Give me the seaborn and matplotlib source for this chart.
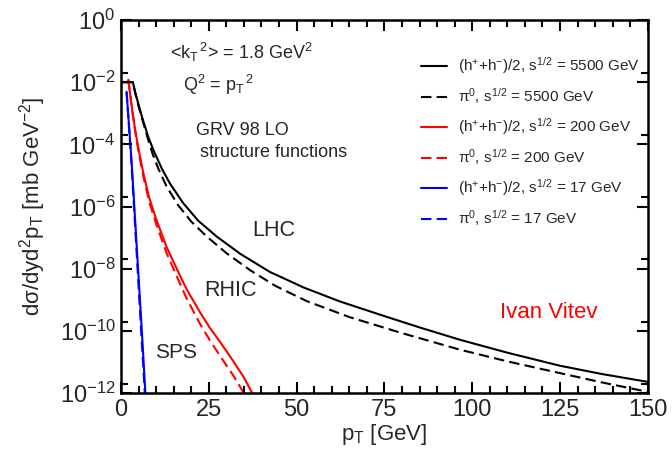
import numpy as np
import matplotlib
matplotlib.use("Agg")
import matplotlib.pyplot as plt
from matplotlib.ticker import MultipleLocator, FixedLocator, NullFormatter
import seaborn as sns

# LHC, sqrt(s) = 5500 GeV
lhc_h_pt = [0.5, 3.4, 4.0, 4.9, 6.0, 7.8, 9.5, 11.6, 14.0, 17.7, 22.0, 27.2, 34.0,
            42.4, 52.0, 62.3, 75.0, 85.0, 96.5, 110, 125, 137, 150]
lhc_h_y = [1.0e-2, 1.0e-2, 5.0e-3, 2.1e-3, 7.6e-4, 1.7e-4, 5.6e-5, 1.7e-5, 5.4e-6,
           1.3e-6, 3.5e-7, 1.1e-7, 3.0e-8, 7.9e-9, 2.5e-9, 8.9e-10, 3.0e-10,
           1.3e-10, 5.2e-11, 2.0e-11, 7.6e-12, 4.1e-12, 2.3e-12]
lhc_pi_pt = [0.5, 3.4, 4.0, 4.9, 6.0, 7.6, 9.0, 10.6, 13.0, 16.3, 20.0, 24.4, 30.0,
             36.7, 44.0, 52.9, 65.0, 80.0, 96.5, 110, 125, 137, 150]
lhc_pi_y = [1.0e-2, 1.0e-2, 4.8e-3, 1.9e-3, 6.8e-4, 1.6e-4, 5.0e-5, 1.7e-5, 4.4e-6,
            1.1e-6, 3.3e-7, 1.1e-7, 3.2e-8, 9.1e-9, 2.8e-9, 9.1e-10, 2.8e-10,
            8.5e-11, 2.5e-11, 1.05e-11, 4.4e-12, 2.2e-12, 1.1e-12]

# RHIC, sqrt(s) = 200 GeV
rhic_h_pt = [2.1, 2.6, 3.2, 4.0, 5.0, 6.3, 8.0, 10.0, 13.0, 16.3, 18.7, 22.5, 25.3,
             28.5, 31.9, 35.0, 37.6, 39.0]
rhic_h_y = [1.2e-2, 4.2e-3, 1.3e-3, 3.2e-4, 7.1e-5, 1.3e-5, 2.0e-6, 4.0e-7, 5.0e-8,
            7.9e-9, 2.2e-9, 4.0e-10, 1.26e-10, 4.0e-11, 1.1e-11, 3.2e-12, 8.9e-13, 4.5e-13]
rhic_pi_pt = [2.1, 2.6, 3.2, 4.0, 5.0, 6.3, 8.0, 10.0, 13.0, 16.3, 18.7, 22.5, 25.3,
              28.5, 31.9, 35.0, 36.5]
rhic_pi_y = [1.2e-2, 4.0e-3, 1.2e-3, 2.8e-4, 6.0e-5, 1.0e-5, 1.5e-6, 2.8e-7, 3.2e-8,
             4.5e-9, 1.1e-9, 1.7e-10, 5.0e-11, 1.4e-11, 3.8e-12, 1.0e-12, 5.0e-13]

# SPS, sqrt(s) = 17 GeV
sps_h_pt = [1.6, 3.0, 4.5, 6.0, 7.0]
sps_h_y = [4.9e-3, 3.2e-5, 5.0e-8, 7.9e-11, 7.9e-13]
sps_pi_pt = [1.6, 2.95, 4.4, 5.85, 6.9]
sps_pi_y = [4.9e-3, 2.8e-5, 4.5e-8, 6.3e-11, 6.3e-13]

labels = [
    r"(h$^{+}$+h$^{-}$)/2, s$^{1/2}$ = 5500 GeV",
    r"π$^{0}$, s$^{1/2}$ = 5500 GeV",
    r"(h$^{+}$+h$^{-}$)/2, s$^{1/2}$ = 200 GeV",
    r"π$^{0}$, s$^{1/2}$ = 200 GeV",
    r"(h$^{+}$+h$^{-}$)/2, s$^{1/2}$ = 17 GeV",
    r"π$^{0}$, s$^{1/2}$ = 17 GeV",
]

x_major = list(range(0, 151, 25))
y_exp = list(range(-12, 1, 2))

sns.set_style("ticks")
plt.rcParams["font.family"] = ["Liberation Sans", "DejaVu Sans"]
plt.rcParams["mathtext.fontset"] = "custom"
plt.rcParams["mathtext.rm"] = "Liberation Sans"
plt.rcParams["mathtext.it"] = "Liberation Sans:italic"
plt.rcParams["mathtext.bf"] = "Liberation Sans:bold"

fig = plt.figure(figsize=(6.72, 4.55), dpi=100)
ax = fig.add_axes([0.18, 0.136, 0.784, 0.82])

dash = (0, (5, 2.5))
series = [
    (lhc_h_pt, lhc_h_y, "black", "-"),
    (lhc_pi_pt, lhc_pi_y, "black", dash),
    (rhic_h_pt, rhic_h_y, "red", "-"),
    (rhic_pi_pt, rhic_pi_y, "red", dash),
    (sps_h_pt, sps_h_y, "blue", "-"),
    (sps_pi_pt, sps_pi_y, "blue", dash),
]
for (xs, ys, col, ls), lab in zip(series, labels):
    sns.lineplot(x=xs, y=ys, ax=ax, color=col, linestyle=ls, linewidth=1.5,
                 label=lab, sort=False)

ax.set_yscale("log")
ax.set_xlim(0, 150)
ax.set_ylim(1e-12, 1)

yt = [10.0 ** k for k in y_exp]
ax.set_yticks(yt, [r"$10^{%d}$" % k for k in y_exp])
ax.yaxis.set_minor_locator(FixedLocator([2 * 10.0 ** k for k in y_exp[:-1]]))
ax.yaxis.set_minor_formatter(NullFormatter())
ax.set_xticks(x_major)
ax.xaxis.set_minor_locator(MultipleLocator(5))

ax.set_axisbelow(False)
ax.tick_params(which="both", direction="in", top=True, right=True, bottom=True,
               left=True, color="black", width=1.5, labelsize=17)
ax.tick_params(which="major", length=8, pad=4)
ax.tick_params(which="minor", length=5)
for sp in ax.spines.values():
    sp.set_linewidth(1.8)
    sp.set_color("black")

ax.set_xlabel(r"p$_{\mathrm{T}}$ [GeV]", fontsize=16, labelpad=1)
ax.set_ylabel(r"dσ/dyd$^{2}$p$_{\mathrm{T}}$ [mb GeV$^{-2}$]", fontsize=16, labelpad=8)

ax.legend(loc="upper left", bbox_to_anchor=(0.57, 0.905), frameon=False,
          fontsize=11, handlelength=1.7, handletextpad=0.7, labelspacing=0.66,
          borderpad=0, borderaxespad=0)

tr = ax.transAxes
ax.text(0.093, 0.914, r"<k$_{\mathrm{T}}$$^{\,2}$> = 1.8 GeV$^{2}$", transform=tr,
        fontsize=13, va="center")
ax.text(0.118, 0.826, r"Q$^{2}$ = p$_{\mathrm{T}}$$^{\,2}$", transform=tr, fontsize=13, va="center")
ax.text(0.142, 0.705, "GRV 98 LO", transform=tr, fontsize=13, va="center")
ax.text(0.150, 0.646, "structure functions", transform=tr, fontsize=13, va="center")
ax.text(0.250, 0.437, "LHC", transform=tr, fontsize=15.5, va="center")
ax.text(0.159, 0.276, "RHIC", transform=tr, fontsize=15.5, va="center")
ax.text(0.065, 0.110, "SPS", transform=tr, fontsize=15, va="center")
ax.text(0.719, 0.217, "Ivan Vitev", transform=tr, fontsize=16, va="center", color="red")

fig.savefig("out.png", dpi=100)
